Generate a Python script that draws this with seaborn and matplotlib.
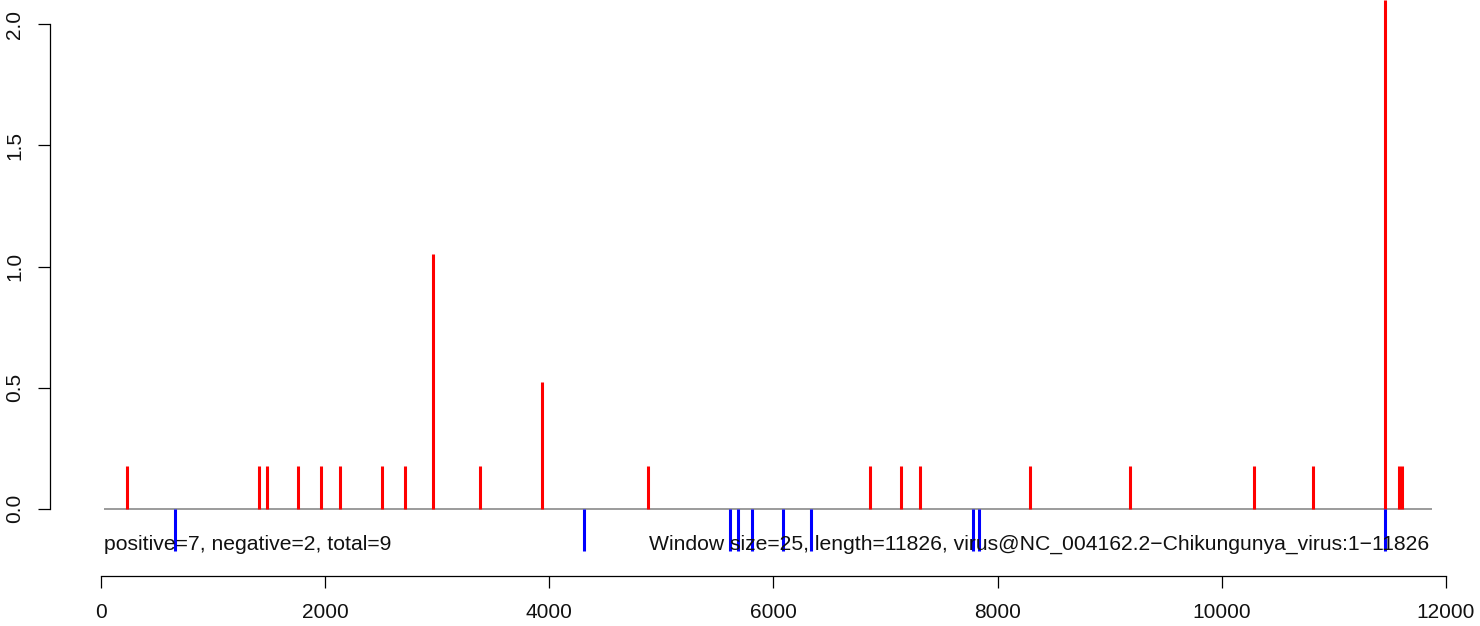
import numpy as np
import matplotlib
matplotlib.use("Agg")
import matplotlib.pyplot as plt
import seaborn as sns

# positions (nt) and scores
pos_x = [237, 1415, 1486, 1763, 1968, 2137, 2512, 2717, 2967, 3386, 3937,
         4885, 6865, 7142, 7311, 8293, 9185, 10291, 10817, 11461, 11584, 11611]
pos_y = [0.175, 0.175, 0.175, 0.175, 0.175, 0.175, 0.175, 0.175, 1.05, 0.175, 0.525,
         0.175, 0.175, 0.175, 0.175, 0.175, 0.175, 0.175, 0.175, 2.1, 0.175, 0.175]
neg_x = [665, 4314, 5616, 5688, 5813, 6089, 6339, 7784, 7838, 11461]
neg_y = [-0.175] * 10

base_start = 25
base_end = 11875
x_ticks = [0, 2000, 4000, 6000, 8000, 10000, 12000]
y_ticks = [0.0, 0.5, 1.0, 1.5, 2.0]
left_note = "positive=7, negative=2, total=9"
right_note = ("Window size=25, length=11826, "
              "virus@NC_004162.2\u2212Chikungunya_virus:1\u221211826")

sns.set_style("white")
plt.rcParams['font.family'] = ['Liberation Sans', 'DejaVu Sans']

W, H = 1480, 626
fig = plt.figure(figsize=(W / 100, H / 100), dpi=100)
ax = fig.add_axes([0, 0, 1, 1])
ax.patch.set_alpha(0)

# pixel mapping of the original R plot
px_per_x = 0.1121
x0_px = 100.7
px_per_y = 242.2
y0_px = 508.7
xmin = -x0_px / px_per_x
xmax = xmin + W / px_per_x
ymax = y0_px / px_per_y
ymin = ymax - H / px_per_y
ax.set_xlim(xmin, xmax)
ax.set_ylim(ymin, ymax)

ax.hlines(0, base_start, base_end, color="#808080", lw=1.1, zorder=1)
ax.vlines(pos_x, 0, pos_y, color="red", lw=2.2, zorder=2)
ax.vlines(neg_x, 0, neg_y, color="blue", lw=2.2, zorder=2)

text_y = ymax - 544 / px_per_y
ax.text(base_start, text_y, left_note, ha="left", va="center", fontsize=15.2, color="#111111")
ax.text(base_end - 25, text_y, right_note, ha="right", va="center", fontsize=15.2, color="#111111")

# R-style axes
for s in ["top", "right"]:
    ax.spines[s].set_visible(False)
ax.spines["left"].set_position(("data", xmin + 50 / px_per_x))
ax.spines["left"].set_bounds(0, 2)
ax.spines["bottom"].set_position(("data", ymax - 575.7 / px_per_y))
ax.spines["bottom"].set_bounds(0, 12000)
for s in ["left", "bottom"]:
    ax.spines[s].set_color("black")
    ax.spines[s].set_linewidth(0.9)

ax.set_xticks(x_ticks)
ax.set_xticklabels([str(t) for t in x_ticks])
ax.set_yticks(y_ticks)
ax.set_yticklabels([f"{t:.1f}" for t in y_ticks], rotation=90, va="center")
ax.tick_params(axis="both", direction="out", length=8.8, width=0.9, color="black",
               labelsize=15, labelcolor="#111111", left=True, bottom=True)
ax.tick_params(axis="x", pad=10.5)
ax.tick_params(axis="y", pad=10)

fig.savefig("out.png", dpi=100)
